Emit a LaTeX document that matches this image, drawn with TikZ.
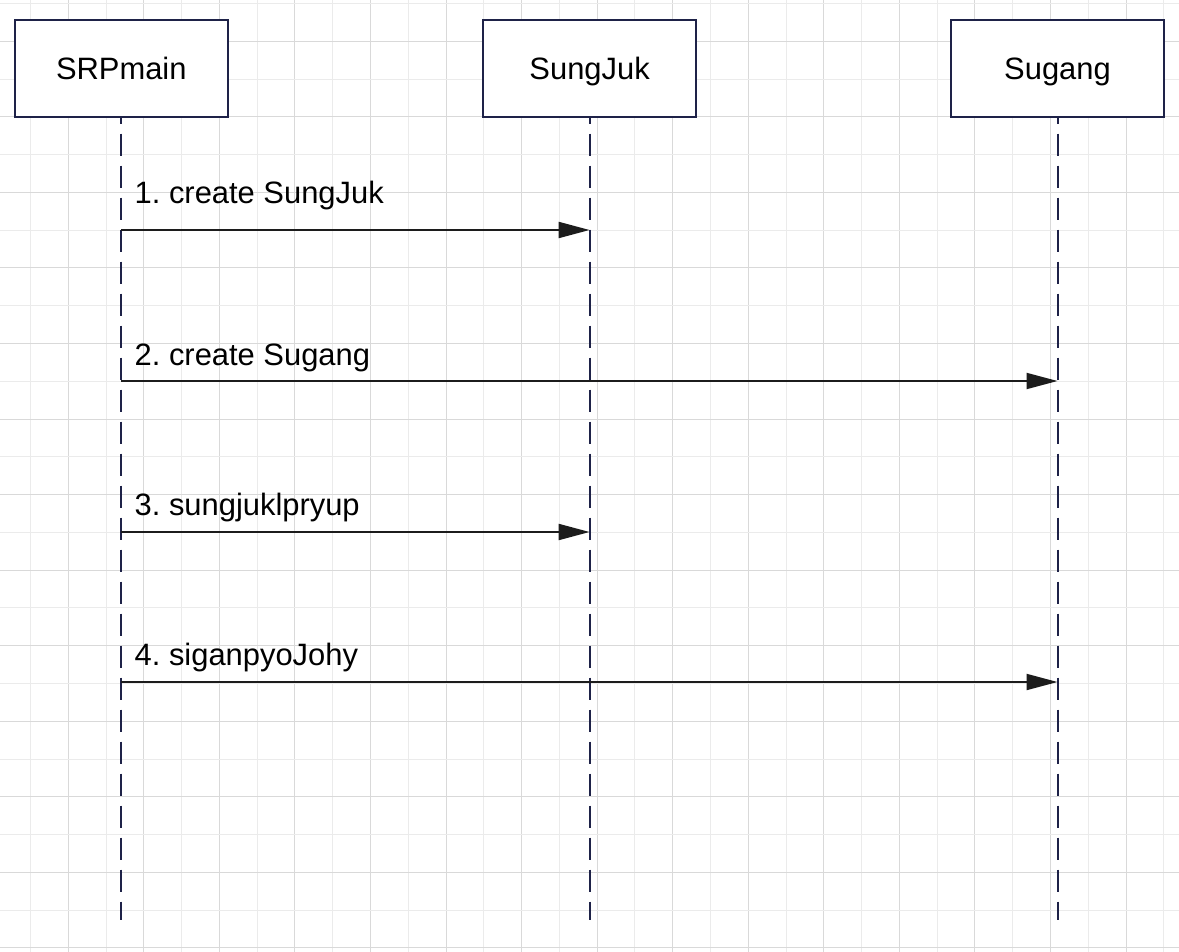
\documentclass[tikz,border=0pt]{standalone}
\usepackage{fontspec}
\setmainfont{Liberation Sans}
\frenchspacing
\usetikzlibrary{arrows.meta}
\definecolor{gridminor}{HTML}{EBEBEB}
\definecolor{gridmajor}{HTML}{D9D9D9}
\definecolor{navy}{HTML}{1E2248}
\definecolor{arrowc}{HTML}{1C1C1C}
\tikzset{
  lifebox/.style={draw=navy, line width=2pt, fill=white, minimum width=212.7pt, minimum height=96.7pt, inner sep=0pt,
    text height=23.4pt, text depth=0pt, font=\fontsize{30.9}{36}\selectfont},
  lifeline/.style={draw=navy, line width=2pt, dash pattern=on 22pt off 10pt, dash phase=16pt},
  msg/.style={draw=arrowc, line width=2pt, -{Triangle[length=31pt,width=16pt]}},
  msglabel/.style={anchor=base west, inner sep=0pt, font=\fontsize{30.9}{36}\selectfont, text=black},
  gridmin/.style={draw=gridminor, line width=1pt},
  gridmaj/.style={draw=gridmajor, line width=1pt}
}
\begin{document}
\begin{tikzpicture}[x=1pt,y=-1pt]
\useasboundingbox (0,0) rectangle (1179,952);
\fill[white] (0,0) rectangle (1179,952);
% grid
\foreach \k in {0,...,31}{
  \pgfmathsetmacro{\gx}{round(30+37.78*\k)+0.5}
  \pgfmathtruncatemacro{\odd}{mod(\k,2)}
  \ifnum\odd=1
    \draw[gridmaj] (\gx,0) -- (\gx,952);
  \else
    \draw[gridmin] (\gx,0) -- (\gx,952);
  \fi
}
\foreach \k in {0,...,25}{
  \pgfmathsetmacro{\gy}{round(3+37.78*\k)+0.5}
  \pgfmathtruncatemacro{\odd}{mod(\k,2)}
  \ifnum\odd=1
    \draw[gridmaj] (0,\gy) -- (1179,\gy);
  \else
    \draw[gridmin] (0,\gy) -- (1179,\gy);
  \fi
}
% boxes
\node[lifebox] (srp) at (121.3,68.3) {SRPmain};
\node[lifebox] (sj)  at (589.6,68.3) {SungJuk};
\node[lifebox] (sg)  at (1057.5,68.3) {Sugang};
% lifeline ends
\coordinate (srpend) at (srp.south |- 0,920);
\coordinate (sjend)  at (sj.south |- 0,920);
\coordinate (sgend)  at (sg.south |- 0,920);
\draw[lifeline] (srp.south) -- (srpend);
\draw[lifeline] (sj.south) -- (sjend);
\draw[lifeline] (sg.south) -- (sgend);
% message points
\coordinate (m1s) at (srp.south |- 0,230);
\coordinate (m1e) at (sj.south |- 0,230);
\coordinate (m2s) at (srp.south |- 0,381);
\coordinate (m2e) at (sg.south |- 0,381);
\coordinate (m3s) at (srp.south |- 0,532);
\coordinate (m3e) at (sj.south |- 0,532);
\coordinate (m4s) at (srp.south |- 0,682);
\coordinate (m4e) at (sg.south |- 0,682);
\draw[msg] (m1s) -- (m1e);
\draw[msg] (m2s) -- (m2e);
\draw[msg] (m3s) -- (m3e);
\draw[msg] (m4s) -- (m4e);
\node[msglabel] (l1) at (134.5,203.3) {1. create SungJuk};
\node[msglabel] (l2) at (134.5,365) {2. create Sugang};
\node[msglabel] (l3) at (134.5,515) {3. sungjuklpryup};
\node[msglabel] (l4) at (134.5,665) {4. siganpyoJohy};
\end{tikzpicture}
\end{document}
